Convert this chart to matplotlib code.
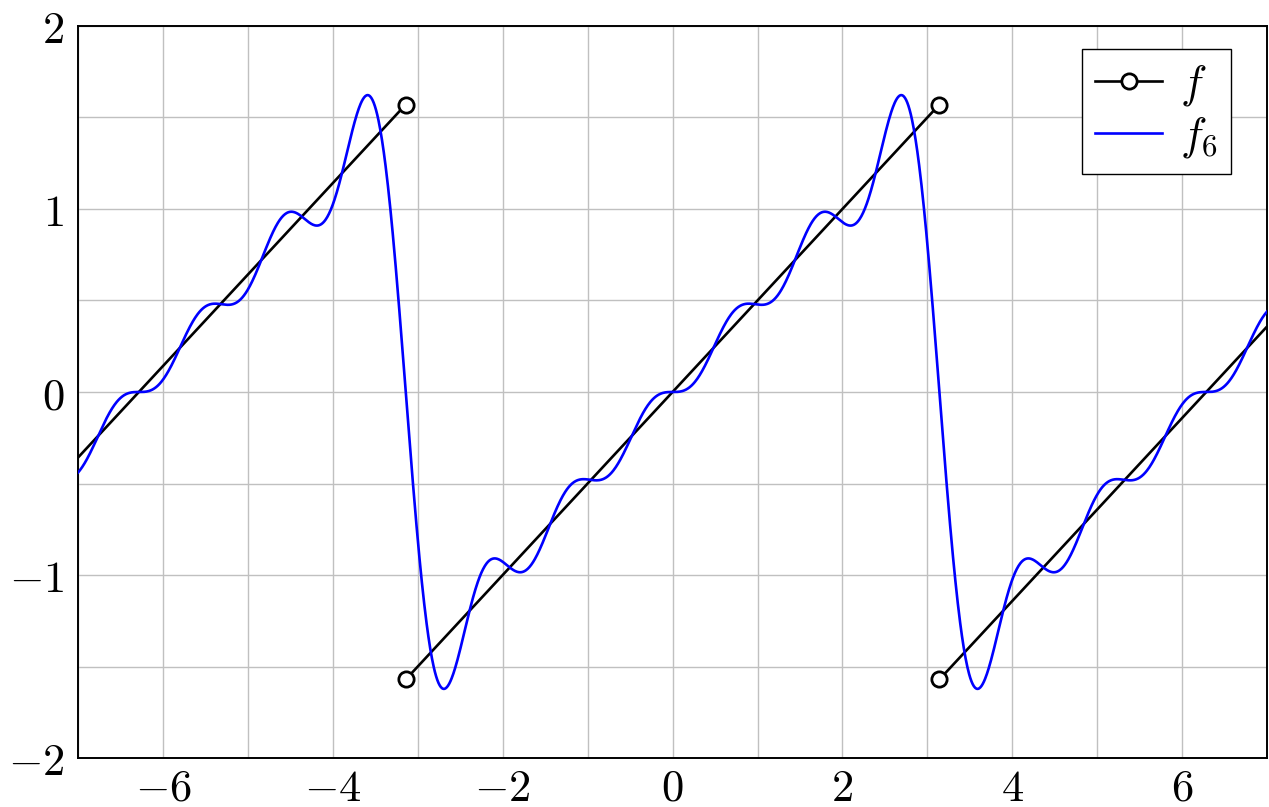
import numpy as np
import matplotlib
matplotlib.use("Agg")
from matplotlib import pyplot as plt
from matplotlib.lines import Line2D
from matplotlib.ticker import MultipleLocator, FixedLocator

plt.rcParams['mathtext.fontset'] = 'cm'
plt.rcParams['font.family'] = 'serif'
plt.rcParams['font.serif'] = ['DejaVu Serif']

# sawtooth f(x) = x/2 on (-pi, pi), repeated; one piece per period
seg_x = [[-7.0, -np.pi], [-np.pi, np.pi], [np.pi, 7.0]]
seg_y = [[-0.358, np.pi / 2], [-np.pi / 2, np.pi / 2], [-np.pi / 2, 0.358]]
# open circles sit on the jump points only
seg_marks = [[1], [0, 1], [0]]

# sine coefficients b_n of the partial sum f_6
coef = [1.0, -1 / 2, 1 / 3, -1 / 4, 1 / 5, -1 / 6]

x_ticks = [-6, -4, -2, 0, 2, 4, 6]
y_ticks = [-2, -1, 0, 1, 2]


def tick_text(t):
    return '$%d$' % t if t >= 0 else '$-%d$' % -t


def main():
    fig = plt.figure(figsize=(12.69, 8.07), dpi=100)
    ax = fig.add_axes([0.0615, 0.0607, 0.937, 0.9071])

    lw = 1.9
    for i, (sx, sy) in enumerate(zip(seg_x, seg_y)):
        ax.plot(sx, sy, color='black', lw=lw, marker='o', markevery=seg_marks[i],
                ms=11, mfc='white', mec='black', mew=2.0, zorder=3)

    xs = np.linspace(-7, 7, 2000)
    f6 = sum(b * np.sin((n + 1) * xs) for n, b in enumerate(coef))
    ax.plot(xs, f6, color='#0000ff', lw=lw, zorder=4)

    ax.set_xlim(-7, 7)
    ax.set_ylim(-2, 2)
    ax.xaxis.set_major_locator(FixedLocator(x_ticks))
    ax.yaxis.set_major_locator(FixedLocator(y_ticks))
    ax.xaxis.set_minor_locator(MultipleLocator(1))
    ax.yaxis.set_minor_locator(MultipleLocator(0.5))
    ax.set_xticklabels([tick_text(t) for t in x_ticks])
    ax.set_yticklabels([tick_text(t) for t in y_ticks])
    ax.tick_params(which='both', length=0, labelsize=32)
    ax.tick_params(axis='x', pad=6)
    ax.tick_params(axis='y', pad=10)
    ax.grid(True, which='both', color='#c0c0c0', lw=1.0)
    ax.set_axisbelow(True)
    for sp in ax.spines.values():
        sp.set_linewidth(1.4)

    handles = [
        Line2D([0], [0], color='black', lw=lw, marker='o', ms=11,
               mfc='white', mec='black', mew=2.0),
        Line2D([0], [0], color='#0000ff', lw=lw),
    ]
    leg = ax.legend(handles, ['$f$', '$f_6$'], loc='upper right',
                    bbox_to_anchor=(0.9697, 0.9686), borderaxespad=0,
                    fontsize=32, fancybox=False, framealpha=1, numpoints=1,
                    edgecolor='black', handlelength=1.5, borderpad=0.3,
                    labelspacing=0.15, handletextpad=0.4)
    leg.get_frame().set_linewidth(1.0)

    fig.savefig('out.png', dpi=100)


if __name__ == "__main__":
    main()
